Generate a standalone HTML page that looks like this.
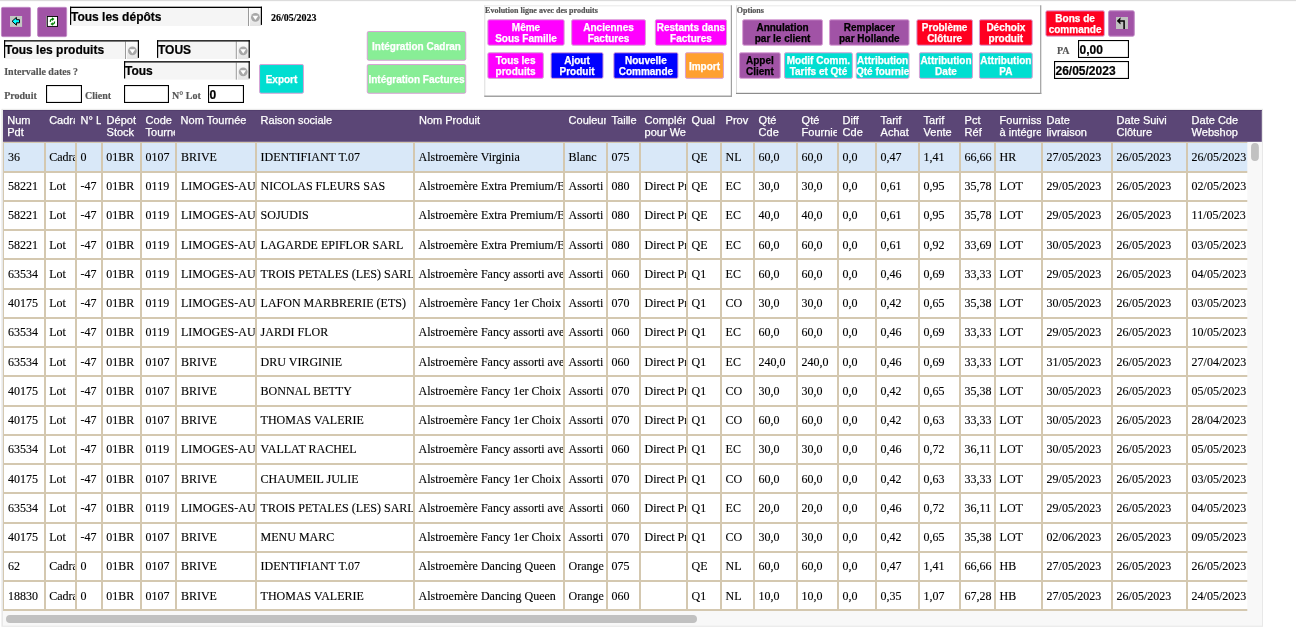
<!DOCTYPE html>
<html lang="fr"><head><meta charset="utf-8"><title>Suivi commandes</title><style>
html,body{margin:0;padding:0;background:#fff;}
body{width:1296px;height:641px;position:relative;overflow:hidden;font-family:"Liberation Serif",serif;}
.grid{position:absolute;left:0;top:0;}
div{box-sizing:border-box;}
.b{position:absolute;display:flex;align-items:center;justify-content:center;text-align:center;font:bold 10px/11px "Liberation Sans",sans-serif;white-space:nowrap;overflow:hidden;-webkit-text-stroke:0.25px currentColor;}
.b span{display:block;position:relative;top:0.5px;}
.st{position:absolute;font:bold 12px/16px "Liberation Sans",sans-serif;color:#000;white-space:nowrap;-webkit-text-stroke:0.2px #000;}
.it{position:absolute;font:bold 12px/14px "Liberation Sans",sans-serif;color:#000;white-space:nowrap;display:flex;align-items:center;-webkit-text-stroke:0.2px #000;}
.gl{position:absolute;font:bold 10px/12px "Liberation Serif",serif;color:#555;white-space:nowrap;-webkit-text-stroke:0.15px currentColor;}
.lg{position:absolute;font:bold 8px/10px "Liberation Serif",serif;color:#555;white-space:nowrap;-webkit-text-stroke:0.2px #555;}
.hc{position:absolute;top:110.0px;height:32.0px;overflow:hidden;color:#fff;font:11px/12px "Liberation Sans",sans-serif;white-space:nowrap;padding:4px 0 0 3.6px;-webkit-text-stroke:0.25px #fff;}
.body{position:absolute;overflow:hidden;}
.c{position:absolute;overflow:hidden;white-space:nowrap;font:12px/14px "Liberation Serif",serif;color:#000;padding:7px 0 0 3.6px;-webkit-text-stroke:0.12px #000;}
</style></head><body>
<svg class="grid" width="1296" height="641" viewBox="0 0 1296 641">
<rect x="1.4" y="108.8" width="1261.6" height="518.0" fill="#e8e8e8"/>
<rect x="3" y="109.8" width="1259" height="515.9000000000001" fill="#f8f8f8"/>
<rect x="0" y="0" width="1296" height="1.15" fill="#dcdcdc"/>
<rect x="1.45" y="7.35" width="29.10" height="29.30" rx="1.4" fill="#a153a6" stroke="#c088c4" stroke-width="1"/>
<rect x="37.65" y="7.35" width="29.00" height="29.30" rx="1.4" fill="#a153a6" stroke="#c088c4" stroke-width="1"/>
<rect x="10" y="16" width="12.1" height="10.9" fill="#c3c7c3"/>
<path d="M12.1 21.25 L16.4 17.4 L16.4 19.7 L19.5 19.7 L19.5 22.8 L16.4 22.8 L16.4 25.2 Z" fill="#00ffff" stroke="#000" stroke-width="1" stroke-linejoin="miter"/>
<rect x="46" y="16" width="1" height="11" fill="#a8a8a8"/>
<rect x="47.3" y="16.45" width="10.25" height="9.95" fill="#fff" stroke="#000" stroke-width="0.9"/>
<g fill="none" stroke="#008000" stroke-width="1.3"><path d="M50.4 21.9 Q50.2 19.2 52.3 19.1"/><path d="M54.5 21.5 Q54.7 23.9 52.6 24"/></g>
<path d="M52 17.3 L54.5 19.1 L52 20.9 Z" fill="#008000"/><path d="M52.9 22.2 L50.4 24 L52.9 25.8 Z" fill="#008000"/>
<rect x="70" y="6.7" width="192" height="19.3" fill="#f5f5f5"/>
<defs><linearGradient id="g1" x1="0" y1="0" x2="0" y2="1"><stop offset="0" stop-color="#fbfbfb"/><stop offset="1" stop-color="#e4e4e4"/></linearGradient></defs>
<rect x="249.6" y="8.0" width="11.299999999999978" height="18.0" fill="url(#g1)"/>
<rect x="249" y="8.0" width="0.8" height="18.0" fill="#fff"/>
<rect x="248" y="8.0" width="1" height="18.0" fill="#9a9a9a"/>
<rect x="70" y="6.7" width="192" height="1.3" fill="#000"/>
<rect x="70" y="6.7" width="1.2" height="18.2" fill="#000"/>
<rect x="260.8" y="6.7" width="1.2" height="18.2" fill="#000"/>
<circle cx="255.4" cy="17.3" r="4.4" fill="#a8a8a8"/>
<path d="M252.5 15.700000000000001 L258.3 15.700000000000001 L255.4 19.900000000000002 Z" fill="#fff"/>
<rect x="4" y="40.2" width="135" height="18.799999999999997" fill="#f5f5f5"/>
<defs><linearGradient id="g2" x1="0" y1="0" x2="0" y2="1"><stop offset="0" stop-color="#fbfbfb"/><stop offset="1" stop-color="#e4e4e4"/></linearGradient></defs>
<rect x="126.6" y="41.5" width="11.300000000000006" height="17.499999999999996" fill="url(#g2)"/>
<rect x="126" y="41.5" width="0.8" height="17.499999999999996" fill="#fff"/>
<rect x="125" y="41.5" width="1" height="17.499999999999996" fill="#9a9a9a"/>
<rect x="4" y="40.2" width="135" height="1.3" fill="#000"/>
<rect x="4" y="40.2" width="1.2" height="17.699999999999996" fill="#000"/>
<rect x="137.8" y="40.2" width="1.2" height="17.699999999999996" fill="#000"/>
<circle cx="132.4" cy="50.800000000000004" r="4.4" fill="#a8a8a8"/>
<path d="M129.5 49.2 L135.3 49.2 L132.4 53.400000000000006 Z" fill="#fff"/>
<rect x="157" y="40.2" width="92.80000000000001" height="18.799999999999997" fill="#f5f5f5"/>
<defs><linearGradient id="g3" x1="0" y1="0" x2="0" y2="1"><stop offset="0" stop-color="#fbfbfb"/><stop offset="1" stop-color="#e4e4e4"/></linearGradient></defs>
<rect x="237.4" y="41.5" width="11.300000000000006" height="17.499999999999996" fill="url(#g3)"/>
<rect x="236.8" y="41.5" width="0.8" height="17.499999999999996" fill="#fff"/>
<rect x="235.8" y="41.5" width="1" height="17.499999999999996" fill="#9a9a9a"/>
<rect x="157" y="40.2" width="92.80000000000001" height="1.3" fill="#000"/>
<rect x="157" y="40.2" width="1.2" height="17.699999999999996" fill="#000"/>
<rect x="248.60000000000002" y="40.2" width="1.2" height="17.699999999999996" fill="#000"/>
<circle cx="243.20000000000002" cy="50.800000000000004" r="4.4" fill="#a8a8a8"/>
<path d="M240.3 49.2 L246.10000000000002 49.2 L243.20000000000002 53.400000000000006 Z" fill="#fff"/>
<rect x="124" y="61.2" width="125.80000000000001" height="18.39999999999999" fill="#f5f5f5"/>
<defs><linearGradient id="g4" x1="0" y1="0" x2="0" y2="1"><stop offset="0" stop-color="#fbfbfb"/><stop offset="1" stop-color="#e4e4e4"/></linearGradient></defs>
<rect x="237.4" y="62.5" width="11.300000000000006" height="17.09999999999999" fill="url(#g4)"/>
<rect x="236.8" y="62.5" width="0.8" height="17.09999999999999" fill="#fff"/>
<rect x="235.8" y="62.5" width="1" height="17.09999999999999" fill="#9a9a9a"/>
<rect x="124" y="61.2" width="125.80000000000001" height="1.3" fill="#000"/>
<rect x="124" y="61.2" width="1.2" height="17.29999999999999" fill="#000"/>
<rect x="248.60000000000002" y="61.2" width="1.2" height="17.29999999999999" fill="#000"/>
<circle cx="243.20000000000002" cy="71.8" r="4.4" fill="#a8a8a8"/>
<path d="M240.3 70.2 L246.10000000000002 70.2 L243.20000000000002 74.39999999999999 Z" fill="#fff"/>
<rect x="46.55" y="85.55" width="34.9" height="16.9" fill="#fff" stroke="#000" stroke-width="1.1"/>
<rect x="124.55" y="85.55" width="43.9" height="16.9" fill="#fff" stroke="#000" stroke-width="1.1"/>
<rect x="208.55" y="85.55" width="34.9" height="16.9" fill="#fff" stroke="#000" stroke-width="1.1"/>
<rect x="1078.55" y="40.55" width="49.9" height="16.9" fill="#fff" stroke="#000" stroke-width="1.1"/>
<rect x="1054.55" y="61.55" width="73.9" height="16.9" fill="#fff" stroke="#000" stroke-width="1.1"/>
<rect x="259.55" y="64.55" width="43.90" height="28.70" rx="1.4" fill="#00ded1" stroke="#d9a0d6" stroke-width="1"/>
<rect x="367.25" y="31.55" width="98.50" height="28.70" rx="1.4" fill="#88ee96" stroke="#d9a0d6" stroke-width="1"/>
<rect x="367.25" y="64.55" width="98.50" height="28.70" rx="1.4" fill="#88ee96" stroke="#d9a0d6" stroke-width="1"/>
<rect x="484.3" y="5.3" width="247.7" height="1" fill="#e9e9e9"/>
<rect x="484.3" y="5.3" width="1" height="91.5" fill="#dcdcdc"/>
<rect x="484.3" y="95.6" width="247.7" height="1.2" fill="#8c8c8c"/>
<rect x="730.8" y="5.3" width="1.2" height="91.5" fill="#a0a0a0"/>
<rect x="736" y="5.3" width="305.29999999999995" height="1" fill="#e9e9e9"/>
<rect x="736" y="5.3" width="1" height="88.7" fill="#dcdcdc"/>
<rect x="736" y="92.8" width="305.29999999999995" height="1.2" fill="#8c8c8c"/>
<rect x="1040.1" y="5.3" width="1.2" height="88.7" fill="#a0a0a0"/>
<rect x="487.85" y="19.75" width="76.30" height="25.50" rx="1.4" fill="#ff00ff" stroke="#d9a0d6" stroke-width="1"/>
<rect x="571.65" y="19.75" width="73.80" height="25.50" rx="1.4" fill="#ff00ff" stroke="#d9a0d6" stroke-width="1"/>
<rect x="655.35" y="19.75" width="71.20" height="25.50" rx="1.4" fill="#ff00ff" stroke="#d9a0d6" stroke-width="1"/>
<rect x="487.85" y="52.75" width="55.50" height="25.60" rx="1.4" fill="#ff00ff" stroke="#d9a0d6" stroke-width="1"/>
<rect x="551.05" y="52.75" width="52.00" height="25.60" rx="1.4" fill="#0000ff" stroke="#d9a0d6" stroke-width="1"/>
<rect x="613.85" y="52.75" width="64.10" height="25.60" rx="1.4" fill="#0000ff" stroke="#d9a0d6" stroke-width="1"/>
<rect x="685.45" y="52.75" width="38.00" height="25.60" rx="1.4" fill="#ffa030" stroke="#d9a0d6" stroke-width="1"/>
<rect x="742.65" y="19.75" width="79.80" height="25.50" rx="1.4" fill="#a153a6" stroke="#d9a0d6" stroke-width="1"/>
<rect x="829.55" y="19.75" width="79.50" height="25.50" rx="1.4" fill="#a153a6" stroke="#d9a0d6" stroke-width="1"/>
<rect x="916.85" y="19.75" width="55.60" height="25.50" rx="1.4" fill="#ff0020" stroke="#d9a0d6" stroke-width="1"/>
<rect x="979.45" y="19.75" width="52.80" height="25.50" rx="1.4" fill="#ff0020" stroke="#d9a0d6" stroke-width="1"/>
<rect x="739.55" y="52.75" width="40.70" height="25.60" rx="1.4" fill="#a153a6" stroke="#d9a0d6" stroke-width="1"/>
<rect x="784.55" y="52.75" width="67.80" height="25.60" rx="1.4" fill="#00ded1" stroke="#d9a0d6" stroke-width="1"/>
<rect x="856.25" y="52.75" width="52.80" height="25.60" rx="1.4" fill="#00ded1" stroke="#d9a0d6" stroke-width="1"/>
<rect x="919.45" y="52.75" width="53.00" height="25.60" rx="1.4" fill="#00ded1" stroke="#d9a0d6" stroke-width="1"/>
<rect x="979.45" y="52.75" width="52.80" height="25.60" rx="1.4" fill="#00ded1" stroke="#d9a0d6" stroke-width="1"/>
<rect x="1045.85" y="10.85" width="58.50" height="25.30" rx="1.4" fill="#ff0020" stroke="#d9a0d6" stroke-width="1"/>
<rect x="1108.65" y="10.85" width="25.60" height="25.30" rx="1.4" fill="#a153a6" stroke="#c088c4" stroke-width="1"/>
<rect x="1116" y="17" width="12" height="12" fill="#c0c0c0"/>
<path d="M1124.1 29 L1124.1 20.9 L1119 20.9" fill="none" stroke="#000" stroke-width="1.5"/><path d="M1117 20.9 L1120.4 17.8 L1119.7 20.9 L1120.4 24 Z" fill="#000" stroke="#000" stroke-width="0.5"/>
<rect x="3.0" y="142.0" width="1244.3" height="29.0" fill="#d9e8f8"/>
<rect x="3.0" y="171" width="1244.3" height="440" fill="#ffffff"/>
<rect x="3.0" y="142.0" width="1244.3" height="1" fill="#d4c8b0"/>
<rect x="3.0" y="171" width="1244.3" height="2" fill="#d4c8b0"/>
<rect x="3.0" y="200" width="1244.3" height="2" fill="#d4c8b0"/>
<rect x="3.0" y="229" width="1244.3" height="2" fill="#d4c8b0"/>
<rect x="3.0" y="258" width="1244.3" height="2" fill="#d4c8b0"/>
<rect x="3.0" y="288" width="1244.3" height="2" fill="#d4c8b0"/>
<rect x="3.0" y="317" width="1244.3" height="2" fill="#d4c8b0"/>
<rect x="3.0" y="346" width="1244.3" height="2" fill="#d4c8b0"/>
<rect x="3.0" y="375" width="1244.3" height="2" fill="#d4c8b0"/>
<rect x="3.0" y="405" width="1244.3" height="2" fill="#d4c8b0"/>
<rect x="3.0" y="434" width="1244.3" height="2" fill="#d4c8b0"/>
<rect x="3.0" y="463" width="1244.3" height="2" fill="#d4c8b0"/>
<rect x="3.0" y="492" width="1244.3" height="2" fill="#d4c8b0"/>
<rect x="3.0" y="522" width="1244.3" height="2" fill="#d4c8b0"/>
<rect x="3.0" y="551" width="1244.3" height="2" fill="#d4c8b0"/>
<rect x="3.0" y="580" width="1244.3" height="2" fill="#d4c8b0"/>
<rect x="3.0" y="609" width="1244.3" height="2" fill="#d4c8b0"/>
<rect x="3" y="142.0" width="1" height="469.0" fill="#d4c8b0"/>
<rect x="44" y="142.0" width="2" height="469.0" fill="#d4c8b0"/>
<rect x="75" y="142.0" width="2" height="469.0" fill="#d4c8b0"/>
<rect x="101" y="142.0" width="2" height="469.0" fill="#d4c8b0"/>
<rect x="140" y="142.0" width="2" height="469.0" fill="#d4c8b0"/>
<rect x="175" y="142.0" width="2" height="469.0" fill="#d4c8b0"/>
<rect x="255" y="142.0" width="2" height="469.0" fill="#d4c8b0"/>
<rect x="413" y="142.0" width="2" height="469.0" fill="#d4c8b0"/>
<rect x="563" y="142.0" width="2" height="469.0" fill="#d4c8b0"/>
<rect x="606" y="142.0" width="2" height="469.0" fill="#d4c8b0"/>
<rect x="639" y="142.0" width="2" height="469.0" fill="#d4c8b0"/>
<rect x="686" y="142.0" width="2" height="469.0" fill="#d4c8b0"/>
<rect x="720" y="142.0" width="2" height="469.0" fill="#d4c8b0"/>
<rect x="753" y="142.0" width="2" height="469.0" fill="#d4c8b0"/>
<rect x="796" y="142.0" width="2" height="469.0" fill="#d4c8b0"/>
<rect x="837" y="142.0" width="2" height="469.0" fill="#d4c8b0"/>
<rect x="875" y="142.0" width="2" height="469.0" fill="#d4c8b0"/>
<rect x="918" y="142.0" width="2" height="469.0" fill="#d4c8b0"/>
<rect x="959" y="142.0" width="2" height="469.0" fill="#d4c8b0"/>
<rect x="994" y="142.0" width="2" height="469.0" fill="#d4c8b0"/>
<rect x="1041" y="142.0" width="2" height="469.0" fill="#d4c8b0"/>
<rect x="1111" y="142.0" width="2" height="469.0" fill="#d4c8b0"/>
<rect x="1186" y="142.0" width="2" height="469.0" fill="#d4c8b0"/>
<rect x="3.0" y="110.0" width="1258.8" height="31.8" fill="#5b4676"/>
<rect x="3.0" y="110.0" width="1258.8" height="0.8" fill="#503c6c"/>
<rect x="1251.05" y="143" width="7.8" height="17.9" rx="3.9" fill="#c1c1c1"/>
<rect x="6" y="615.05" width="691" height="7.85" rx="3.9" fill="#c1c1c1"/>
</svg>
<div class="st" style="left:71.0px;top:9px">Tous les dépôts</div>
<div class="st" style="left:5.0px;top:42px">Tous les produits</div>
<div class="st" style="left:158.0px;top:42px">TOUS</div>
<div class="st" style="left:125.0px;top:63px">Tous</div>
<div class="gl" style="left:271px;top:11.5px;color:#000">26/05/2023</div>
<div class="gl" style="left:4.2px;top:66.3px">Intervalle dates ?</div>
<div class="gl" style="left:4.2px;top:90.1px">Produit</div>
<div class="gl" style="left:85px;top:90.1px">Client</div>
<div class="gl" style="left:172px;top:90.1px">N° Lot</div>
<div class="it" style="left:209.5px;top:86px;height:18px">0</div>
<div class="it" style="left:1079.5px;top:41px;height:18px">0,00</div>
<div class="it" style="left:1055.5px;top:62px;height:18px">26/05/2023</div>
<div class="gl" style="left:1057px;top:45.4px">PA</div>
<div class="b" style="left:259.3px;top:64.3px;width:44.39999999999998px;height:29.200000000000003px;color:#fff"><span>Export</span></div>
<div class="b" style="left:367px;top:31.3px;width:99px;height:29.2px;color:#fff"><span>Intégration Cadran</span></div>
<div class="b" style="left:367px;top:64.3px;width:99px;height:29.200000000000003px;color:#fff"><span>Intégration Factures</span></div>
<div class="lg" style="left:485.1px;top:5.5px">Evolution ligne avec des produits</div>
<div class="lg" style="left:736.8px;top:5.5px">Options</div>
<div class="b" style="left:487.6px;top:19.5px;width:76.79999999999995px;height:26.0px;color:#fff"><span>Même<br>Sous Famille</span></div>
<div class="b" style="left:571.4px;top:19.5px;width:74.30000000000007px;height:26.0px;color:#fff"><span>Anciennes<br>Factures</span></div>
<div class="b" style="left:655.1px;top:19.5px;width:71.69999999999993px;height:26.0px;color:#fff"><span>Restants dans<br>Factures</span></div>
<div class="b" style="left:487.6px;top:52.5px;width:56.0px;height:26.099999999999994px;color:#fff"><span>Tous les<br>produits</span></div>
<div class="b" style="left:550.8px;top:52.5px;width:52.5px;height:26.099999999999994px;color:#fff"><span>Ajout<br>Produit</span></div>
<div class="b" style="left:613.6px;top:52.5px;width:64.60000000000002px;height:26.099999999999994px;color:#fff"><span>Nouvelle<br>Commande</span></div>
<div class="b" style="left:685.2px;top:52.5px;width:38.5px;height:26.099999999999994px;color:#fff"><span>Import</span></div>
<div class="b" style="left:742.4px;top:19.5px;width:80.30000000000007px;height:26.0px;color:#000"><span>Annulation<br>par le client</span></div>
<div class="b" style="left:829.3px;top:19.5px;width:80.0px;height:26.0px;color:#000"><span>Remplacer<br>par Hollande</span></div>
<div class="b" style="left:916.6px;top:19.5px;width:56.10000000000002px;height:26.0px;color:#fff"><span>Problème<br>Clôture</span></div>
<div class="b" style="left:979.2px;top:19.5px;width:53.299999999999955px;height:26.0px;color:#fff"><span>Déchoix<br>produit</span></div>
<div class="b" style="left:739.3px;top:52.5px;width:41.200000000000045px;height:26.099999999999994px;color:#000"><span>Appel<br>Client</span></div>
<div class="b" style="left:784.3px;top:52.5px;width:68.30000000000007px;height:26.099999999999994px;color:#fff"><span>Modif Comm.<br>Tarifs et Qté</span></div>
<div class="b" style="left:856px;top:52.5px;width:53.299999999999955px;height:26.099999999999994px;color:#fff"><span>Attribution<br>Qté fournie</span></div>
<div class="b" style="left:919.2px;top:52.5px;width:53.5px;height:26.099999999999994px;color:#fff"><span>Attribution<br>Date</span></div>
<div class="b" style="left:979.2px;top:52.5px;width:53.299999999999955px;height:26.099999999999994px;color:#fff"><span>Attribution<br>PA</span></div>
<div class="b" style="left:1045.6px;top:10.6px;width:59.0px;height:25.799999999999997px;color:#fff"><span>Bons de<br>commande</span></div>
<div class="hc" style="left:3.7px;width:40.3px"><span>Num<br>Pdt</span></div>
<div class="hc" style="left:45.55px;width:29.450000000000003px"><span>Cadran</span></div>
<div class="hc" style="left:77px;width:24px"><span>N° Lot</span></div>
<div class="hc" style="left:103px;width:37px"><span>Dépot<br>Stock</span></div>
<div class="hc" style="left:142px;width:33px"><span>Code<br>Tournée</span></div>
<div class="hc" style="left:177px;width:78px"><span>Nom Tournée</span></div>
<div class="hc" style="left:257px;width:156px"><span>Raison sociale</span></div>
<div class="hc" style="left:415.4px;width:147.60000000000002px"><span>Nom Produit</span></div>
<div class="hc" style="left:565px;width:41px"><span>Couleur</span></div>
<div class="hc" style="left:608px;width:31px"><span>Taille</span></div>
<div class="hc" style="left:641px;width:45px"><span>Complément<br>pour Webshop</span></div>
<div class="hc" style="left:688px;width:32px"><span>Qual</span></div>
<div class="hc" style="left:722px;width:31px"><span>Prov</span></div>
<div class="hc" style="left:755px;width:41px"><span>Qté<br>Cde</span></div>
<div class="hc" style="left:798px;width:39px"><span>Qté<br>Fournie</span></div>
<div class="hc" style="left:839px;width:36px"><span>Diff<br>Cde</span></div>
<div class="hc" style="left:877px;width:41px"><span>Tarif<br>Achat</span></div>
<div class="hc" style="left:920px;width:39px"><span>Tarif<br>Vente</span></div>
<div class="hc" style="left:961px;width:33px"><span>Pct<br>Réf</span></div>
<div class="hc" style="left:996px;width:45px"><span>Fournisseur<br>à intégrer</span></div>
<div class="hc" style="left:1043px;width:68px"><span>Date<br>livraison</span></div>
<div class="hc" style="left:1113px;width:73px"><span>Date Suivi<br>Clôture</span></div>
<div class="hc" style="left:1188px;width:73.79999999999995px"><span>Date Cde<br>Webshop</span></div>
<div class="body" style="left:0px;top:142.0px;width:1247.3px;height:469.0px">
<div class="c" style="left:4.3px;top:1.0px;width:39.7px;height:28px;padding-top:7px"><span>36</span></div>
<div class="c" style="left:45.55px;top:1.0px;width:29.450000000000003px;height:28px;padding-top:7px"><span>Cadran</span></div>
<div class="c" style="left:77px;top:1.0px;width:24px;height:28px;padding-top:7px"><span>0</span></div>
<div class="c" style="left:102.7px;top:1.0px;width:37.3px;height:28px;padding-top:7px"><span>01BR</span></div>
<div class="c" style="left:142px;top:1.0px;width:33px;height:28px;padding-top:7px"><span>0107</span></div>
<div class="c" style="left:177.3px;top:1.0px;width:77.69999999999999px;height:28px;padding-top:7px"><span>BRIVE</span></div>
<div class="c" style="left:257px;top:1.0px;width:156px;height:28px;padding-top:7px"><span>IDENTIFIANT T.07</span></div>
<div class="c" style="left:415px;top:1.0px;width:148px;height:28px;padding-top:7px"><span>Alstroemère Virginia</span></div>
<div class="c" style="left:565px;top:1.0px;width:41px;height:28px;padding-top:7px"><span>Blanc</span></div>
<div class="c" style="left:608px;top:1.0px;width:31px;height:28px;padding-top:7px"><span>075</span></div>
<div class="c" style="left:688px;top:1.0px;width:32px;height:28px;padding-top:7px"><span>QE</span></div>
<div class="c" style="left:722px;top:1.0px;width:31px;height:28px;padding-top:7px"><span>NL</span></div>
<div class="c" style="left:755px;top:1.0px;width:41px;height:28px;padding-top:7px"><span>60,0</span></div>
<div class="c" style="left:798px;top:1.0px;width:39px;height:28px;padding-top:7px"><span>60,0</span></div>
<div class="c" style="left:839px;top:1.0px;width:36px;height:28px;padding-top:7px"><span>0,0</span></div>
<div class="c" style="left:877px;top:1.0px;width:41px;height:28px;padding-top:7px"><span>0,47</span></div>
<div class="c" style="left:920px;top:1.0px;width:39px;height:28px;padding-top:7px"><span>1,41</span></div>
<div class="c" style="left:961px;top:1.0px;width:33px;height:28px;padding-top:7px"><span>66,66</span></div>
<div class="c" style="left:996px;top:1.0px;width:45px;height:28px;padding-top:7px"><span>HR</span></div>
<div class="c" style="left:1043px;top:1.0px;width:68px;height:28px;padding-top:7px"><span>27/05/2023</span></div>
<div class="c" style="left:1113px;top:1.0px;width:73px;height:28px;padding-top:7px"><span>26/05/2023</span></div>
<div class="c" style="left:1188px;top:1.0px;width:86px;height:28px;padding-top:7px"><span>26/05/2023</span></div>
<div class="c" style="left:4.3px;top:31.0px;width:39.7px;height:27px;padding-top:6px"><span>58221</span></div>
<div class="c" style="left:45.55px;top:31.0px;width:29.450000000000003px;height:27px;padding-top:6px"><span>Lot</span></div>
<div class="c" style="left:77px;top:31.0px;width:24px;height:27px;padding-top:6px"><span>-47</span></div>
<div class="c" style="left:102.7px;top:31.0px;width:37.3px;height:27px;padding-top:6px"><span>01BR</span></div>
<div class="c" style="left:142px;top:31.0px;width:33px;height:27px;padding-top:6px"><span>0119</span></div>
<div class="c" style="left:177.3px;top:31.0px;width:77.69999999999999px;height:27px;padding-top:6px"><span>LIMOGES-AURILLAC</span></div>
<div class="c" style="left:257px;top:31.0px;width:156px;height:27px;padding-top:6px"><span>NICOLAS FLEURS SAS</span></div>
<div class="c" style="left:415px;top:31.0px;width:148px;height:27px;padding-top:6px"><span>Alstroemère Extra Premium/Extra</span></div>
<div class="c" style="left:565px;top:31.0px;width:41px;height:27px;padding-top:6px"><span>Assorti</span></div>
<div class="c" style="left:608px;top:31.0px;width:31px;height:27px;padding-top:6px"><span>080</span></div>
<div class="c" style="left:641px;top:31.0px;width:45px;height:27px;padding-top:6px"><span>Direct Producteur</span></div>
<div class="c" style="left:688px;top:31.0px;width:32px;height:27px;padding-top:6px"><span>QE</span></div>
<div class="c" style="left:722px;top:31.0px;width:31px;height:27px;padding-top:6px"><span>EC</span></div>
<div class="c" style="left:755px;top:31.0px;width:41px;height:27px;padding-top:6px"><span>30,0</span></div>
<div class="c" style="left:798px;top:31.0px;width:39px;height:27px;padding-top:6px"><span>30,0</span></div>
<div class="c" style="left:839px;top:31.0px;width:36px;height:27px;padding-top:6px"><span>0,0</span></div>
<div class="c" style="left:877px;top:31.0px;width:41px;height:27px;padding-top:6px"><span>0,61</span></div>
<div class="c" style="left:920px;top:31.0px;width:39px;height:27px;padding-top:6px"><span>0,95</span></div>
<div class="c" style="left:961px;top:31.0px;width:33px;height:27px;padding-top:6px"><span>35,78</span></div>
<div class="c" style="left:996px;top:31.0px;width:45px;height:27px;padding-top:6px"><span>LOT</span></div>
<div class="c" style="left:1043px;top:31.0px;width:68px;height:27px;padding-top:6px"><span>29/05/2023</span></div>
<div class="c" style="left:1113px;top:31.0px;width:73px;height:27px;padding-top:6px"><span>26/05/2023</span></div>
<div class="c" style="left:1188px;top:31.0px;width:86px;height:27px;padding-top:6px"><span>02/05/2023</span></div>
<div class="c" style="left:4.3px;top:60.0px;width:39.7px;height:27px;padding-top:6px"><span>58221</span></div>
<div class="c" style="left:45.55px;top:60.0px;width:29.450000000000003px;height:27px;padding-top:6px"><span>Lot</span></div>
<div class="c" style="left:77px;top:60.0px;width:24px;height:27px;padding-top:6px"><span>-47</span></div>
<div class="c" style="left:102.7px;top:60.0px;width:37.3px;height:27px;padding-top:6px"><span>01BR</span></div>
<div class="c" style="left:142px;top:60.0px;width:33px;height:27px;padding-top:6px"><span>0119</span></div>
<div class="c" style="left:177.3px;top:60.0px;width:77.69999999999999px;height:27px;padding-top:6px"><span>LIMOGES-AURILLAC</span></div>
<div class="c" style="left:257px;top:60.0px;width:156px;height:27px;padding-top:6px"><span>SOJUDIS</span></div>
<div class="c" style="left:415px;top:60.0px;width:148px;height:27px;padding-top:6px"><span>Alstroemère Extra Premium/Extra</span></div>
<div class="c" style="left:565px;top:60.0px;width:41px;height:27px;padding-top:6px"><span>Assorti</span></div>
<div class="c" style="left:608px;top:60.0px;width:31px;height:27px;padding-top:6px"><span>080</span></div>
<div class="c" style="left:641px;top:60.0px;width:45px;height:27px;padding-top:6px"><span>Direct Producteur</span></div>
<div class="c" style="left:688px;top:60.0px;width:32px;height:27px;padding-top:6px"><span>QE</span></div>
<div class="c" style="left:722px;top:60.0px;width:31px;height:27px;padding-top:6px"><span>EC</span></div>
<div class="c" style="left:755px;top:60.0px;width:41px;height:27px;padding-top:6px"><span>40,0</span></div>
<div class="c" style="left:798px;top:60.0px;width:39px;height:27px;padding-top:6px"><span>40,0</span></div>
<div class="c" style="left:839px;top:60.0px;width:36px;height:27px;padding-top:6px"><span>0,0</span></div>
<div class="c" style="left:877px;top:60.0px;width:41px;height:27px;padding-top:6px"><span>0,61</span></div>
<div class="c" style="left:920px;top:60.0px;width:39px;height:27px;padding-top:6px"><span>0,95</span></div>
<div class="c" style="left:961px;top:60.0px;width:33px;height:27px;padding-top:6px"><span>35,78</span></div>
<div class="c" style="left:996px;top:60.0px;width:45px;height:27px;padding-top:6px"><span>LOT</span></div>
<div class="c" style="left:1043px;top:60.0px;width:68px;height:27px;padding-top:6px"><span>29/05/2023</span></div>
<div class="c" style="left:1113px;top:60.0px;width:73px;height:27px;padding-top:6px"><span>26/05/2023</span></div>
<div class="c" style="left:1188px;top:60.0px;width:86px;height:27px;padding-top:6px"><span>11/05/2023</span></div>
<div class="c" style="left:4.3px;top:89.0px;width:39.7px;height:27px;padding-top:7px"><span>58221</span></div>
<div class="c" style="left:45.55px;top:89.0px;width:29.450000000000003px;height:27px;padding-top:7px"><span>Lot</span></div>
<div class="c" style="left:77px;top:89.0px;width:24px;height:27px;padding-top:7px"><span>-47</span></div>
<div class="c" style="left:102.7px;top:89.0px;width:37.3px;height:27px;padding-top:7px"><span>01BR</span></div>
<div class="c" style="left:142px;top:89.0px;width:33px;height:27px;padding-top:7px"><span>0119</span></div>
<div class="c" style="left:177.3px;top:89.0px;width:77.69999999999999px;height:27px;padding-top:7px"><span>LIMOGES-AURILLAC</span></div>
<div class="c" style="left:257px;top:89.0px;width:156px;height:27px;padding-top:7px"><span>LAGARDE EPIFLOR SARL</span></div>
<div class="c" style="left:415px;top:89.0px;width:148px;height:27px;padding-top:7px"><span>Alstroemère Extra Premium/Extra</span></div>
<div class="c" style="left:565px;top:89.0px;width:41px;height:27px;padding-top:7px"><span>Assorti</span></div>
<div class="c" style="left:608px;top:89.0px;width:31px;height:27px;padding-top:7px"><span>080</span></div>
<div class="c" style="left:641px;top:89.0px;width:45px;height:27px;padding-top:7px"><span>Direct Producteur</span></div>
<div class="c" style="left:688px;top:89.0px;width:32px;height:27px;padding-top:7px"><span>QE</span></div>
<div class="c" style="left:722px;top:89.0px;width:31px;height:27px;padding-top:7px"><span>EC</span></div>
<div class="c" style="left:755px;top:89.0px;width:41px;height:27px;padding-top:7px"><span>60,0</span></div>
<div class="c" style="left:798px;top:89.0px;width:39px;height:27px;padding-top:7px"><span>60,0</span></div>
<div class="c" style="left:839px;top:89.0px;width:36px;height:27px;padding-top:7px"><span>0,0</span></div>
<div class="c" style="left:877px;top:89.0px;width:41px;height:27px;padding-top:7px"><span>0,61</span></div>
<div class="c" style="left:920px;top:89.0px;width:39px;height:27px;padding-top:7px"><span>0,92</span></div>
<div class="c" style="left:961px;top:89.0px;width:33px;height:27px;padding-top:7px"><span>33,69</span></div>
<div class="c" style="left:996px;top:89.0px;width:45px;height:27px;padding-top:7px"><span>LOT</span></div>
<div class="c" style="left:1043px;top:89.0px;width:68px;height:27px;padding-top:7px"><span>30/05/2023</span></div>
<div class="c" style="left:1113px;top:89.0px;width:73px;height:27px;padding-top:7px"><span>26/05/2023</span></div>
<div class="c" style="left:1188px;top:89.0px;width:86px;height:27px;padding-top:7px"><span>03/05/2023</span></div>
<div class="c" style="left:4.3px;top:118.0px;width:39.7px;height:28px;padding-top:7px"><span>63534</span></div>
<div class="c" style="left:45.55px;top:118.0px;width:29.450000000000003px;height:28px;padding-top:7px"><span>Lot</span></div>
<div class="c" style="left:77px;top:118.0px;width:24px;height:28px;padding-top:7px"><span>-47</span></div>
<div class="c" style="left:102.7px;top:118.0px;width:37.3px;height:28px;padding-top:7px"><span>01BR</span></div>
<div class="c" style="left:142px;top:118.0px;width:33px;height:28px;padding-top:7px"><span>0119</span></div>
<div class="c" style="left:177.3px;top:118.0px;width:77.69999999999999px;height:28px;padding-top:7px"><span>LIMOGES-AURILLAC</span></div>
<div class="c" style="left:257px;top:118.0px;width:156px;height:28px;padding-top:7px"><span>TROIS PETALES (LES) SARL</span></div>
<div class="c" style="left:415px;top:118.0px;width:148px;height:28px;padding-top:7px"><span>Alstroemère Fancy assorti avec</span></div>
<div class="c" style="left:565px;top:118.0px;width:41px;height:28px;padding-top:7px"><span>Assorti</span></div>
<div class="c" style="left:608px;top:118.0px;width:31px;height:28px;padding-top:7px"><span>060</span></div>
<div class="c" style="left:641px;top:118.0px;width:45px;height:28px;padding-top:7px"><span>Direct Producteur</span></div>
<div class="c" style="left:688px;top:118.0px;width:32px;height:28px;padding-top:7px"><span>Q1</span></div>
<div class="c" style="left:722px;top:118.0px;width:31px;height:28px;padding-top:7px"><span>EC</span></div>
<div class="c" style="left:755px;top:118.0px;width:41px;height:28px;padding-top:7px"><span>60,0</span></div>
<div class="c" style="left:798px;top:118.0px;width:39px;height:28px;padding-top:7px"><span>60,0</span></div>
<div class="c" style="left:839px;top:118.0px;width:36px;height:28px;padding-top:7px"><span>0,0</span></div>
<div class="c" style="left:877px;top:118.0px;width:41px;height:28px;padding-top:7px"><span>0,46</span></div>
<div class="c" style="left:920px;top:118.0px;width:39px;height:28px;padding-top:7px"><span>0,69</span></div>
<div class="c" style="left:961px;top:118.0px;width:33px;height:28px;padding-top:7px"><span>33,33</span></div>
<div class="c" style="left:996px;top:118.0px;width:45px;height:28px;padding-top:7px"><span>LOT</span></div>
<div class="c" style="left:1043px;top:118.0px;width:68px;height:28px;padding-top:7px"><span>29/05/2023</span></div>
<div class="c" style="left:1113px;top:118.0px;width:73px;height:28px;padding-top:7px"><span>26/05/2023</span></div>
<div class="c" style="left:1188px;top:118.0px;width:86px;height:28px;padding-top:7px"><span>04/05/2023</span></div>
<div class="c" style="left:4.3px;top:148.0px;width:39.7px;height:27px;padding-top:6px"><span>40175</span></div>
<div class="c" style="left:45.55px;top:148.0px;width:29.450000000000003px;height:27px;padding-top:6px"><span>Lot</span></div>
<div class="c" style="left:77px;top:148.0px;width:24px;height:27px;padding-top:6px"><span>-47</span></div>
<div class="c" style="left:102.7px;top:148.0px;width:37.3px;height:27px;padding-top:6px"><span>01BR</span></div>
<div class="c" style="left:142px;top:148.0px;width:33px;height:27px;padding-top:6px"><span>0119</span></div>
<div class="c" style="left:177.3px;top:148.0px;width:77.69999999999999px;height:27px;padding-top:6px"><span>LIMOGES-AURILLAC</span></div>
<div class="c" style="left:257px;top:148.0px;width:156px;height:27px;padding-top:6px"><span>LAFON MARBRERIE (ETS)</span></div>
<div class="c" style="left:415px;top:148.0px;width:148px;height:27px;padding-top:6px"><span>Alstroemère Fancy 1er Choix</span></div>
<div class="c" style="left:565px;top:148.0px;width:41px;height:27px;padding-top:6px"><span>Assorti</span></div>
<div class="c" style="left:608px;top:148.0px;width:31px;height:27px;padding-top:6px"><span>070</span></div>
<div class="c" style="left:641px;top:148.0px;width:45px;height:27px;padding-top:6px"><span>Direct Producteur</span></div>
<div class="c" style="left:688px;top:148.0px;width:32px;height:27px;padding-top:6px"><span>Q1</span></div>
<div class="c" style="left:722px;top:148.0px;width:31px;height:27px;padding-top:6px"><span>CO</span></div>
<div class="c" style="left:755px;top:148.0px;width:41px;height:27px;padding-top:6px"><span>30,0</span></div>
<div class="c" style="left:798px;top:148.0px;width:39px;height:27px;padding-top:6px"><span>30,0</span></div>
<div class="c" style="left:839px;top:148.0px;width:36px;height:27px;padding-top:6px"><span>0,0</span></div>
<div class="c" style="left:877px;top:148.0px;width:41px;height:27px;padding-top:6px"><span>0,42</span></div>
<div class="c" style="left:920px;top:148.0px;width:39px;height:27px;padding-top:6px"><span>0,65</span></div>
<div class="c" style="left:961px;top:148.0px;width:33px;height:27px;padding-top:6px"><span>35,38</span></div>
<div class="c" style="left:996px;top:148.0px;width:45px;height:27px;padding-top:6px"><span>LOT</span></div>
<div class="c" style="left:1043px;top:148.0px;width:68px;height:27px;padding-top:6px"><span>30/05/2023</span></div>
<div class="c" style="left:1113px;top:148.0px;width:73px;height:27px;padding-top:6px"><span>26/05/2023</span></div>
<div class="c" style="left:1188px;top:148.0px;width:86px;height:27px;padding-top:6px"><span>03/05/2023</span></div>
<div class="c" style="left:4.3px;top:177.0px;width:39.7px;height:27px;padding-top:6px"><span>63534</span></div>
<div class="c" style="left:45.55px;top:177.0px;width:29.450000000000003px;height:27px;padding-top:6px"><span>Lot</span></div>
<div class="c" style="left:77px;top:177.0px;width:24px;height:27px;padding-top:6px"><span>-47</span></div>
<div class="c" style="left:102.7px;top:177.0px;width:37.3px;height:27px;padding-top:6px"><span>01BR</span></div>
<div class="c" style="left:142px;top:177.0px;width:33px;height:27px;padding-top:6px"><span>0119</span></div>
<div class="c" style="left:177.3px;top:177.0px;width:77.69999999999999px;height:27px;padding-top:6px"><span>LIMOGES-AURILLAC</span></div>
<div class="c" style="left:257px;top:177.0px;width:156px;height:27px;padding-top:6px"><span>JARDI FLOR</span></div>
<div class="c" style="left:415px;top:177.0px;width:148px;height:27px;padding-top:6px"><span>Alstroemère Fancy assorti avec</span></div>
<div class="c" style="left:565px;top:177.0px;width:41px;height:27px;padding-top:6px"><span>Assorti</span></div>
<div class="c" style="left:608px;top:177.0px;width:31px;height:27px;padding-top:6px"><span>060</span></div>
<div class="c" style="left:641px;top:177.0px;width:45px;height:27px;padding-top:6px"><span>Direct Producteur</span></div>
<div class="c" style="left:688px;top:177.0px;width:32px;height:27px;padding-top:6px"><span>Q1</span></div>
<div class="c" style="left:722px;top:177.0px;width:31px;height:27px;padding-top:6px"><span>EC</span></div>
<div class="c" style="left:755px;top:177.0px;width:41px;height:27px;padding-top:6px"><span>60,0</span></div>
<div class="c" style="left:798px;top:177.0px;width:39px;height:27px;padding-top:6px"><span>60,0</span></div>
<div class="c" style="left:839px;top:177.0px;width:36px;height:27px;padding-top:6px"><span>0,0</span></div>
<div class="c" style="left:877px;top:177.0px;width:41px;height:27px;padding-top:6px"><span>0,46</span></div>
<div class="c" style="left:920px;top:177.0px;width:39px;height:27px;padding-top:6px"><span>0,69</span></div>
<div class="c" style="left:961px;top:177.0px;width:33px;height:27px;padding-top:6px"><span>33,33</span></div>
<div class="c" style="left:996px;top:177.0px;width:45px;height:27px;padding-top:6px"><span>LOT</span></div>
<div class="c" style="left:1043px;top:177.0px;width:68px;height:27px;padding-top:6px"><span>29/05/2023</span></div>
<div class="c" style="left:1113px;top:177.0px;width:73px;height:27px;padding-top:6px"><span>26/05/2023</span></div>
<div class="c" style="left:1188px;top:177.0px;width:86px;height:27px;padding-top:6px"><span>10/05/2023</span></div>
<div class="c" style="left:4.3px;top:206.0px;width:39.7px;height:27px;padding-top:7px"><span>63534</span></div>
<div class="c" style="left:45.55px;top:206.0px;width:29.450000000000003px;height:27px;padding-top:7px"><span>Lot</span></div>
<div class="c" style="left:77px;top:206.0px;width:24px;height:27px;padding-top:7px"><span>-47</span></div>
<div class="c" style="left:102.7px;top:206.0px;width:37.3px;height:27px;padding-top:7px"><span>01BR</span></div>
<div class="c" style="left:142px;top:206.0px;width:33px;height:27px;padding-top:7px"><span>0107</span></div>
<div class="c" style="left:177.3px;top:206.0px;width:77.69999999999999px;height:27px;padding-top:7px"><span>BRIVE</span></div>
<div class="c" style="left:257px;top:206.0px;width:156px;height:27px;padding-top:7px"><span>DRU VIRGINIE</span></div>
<div class="c" style="left:415px;top:206.0px;width:148px;height:27px;padding-top:7px"><span>Alstroemère Fancy assorti avec</span></div>
<div class="c" style="left:565px;top:206.0px;width:41px;height:27px;padding-top:7px"><span>Assorti</span></div>
<div class="c" style="left:608px;top:206.0px;width:31px;height:27px;padding-top:7px"><span>060</span></div>
<div class="c" style="left:641px;top:206.0px;width:45px;height:27px;padding-top:7px"><span>Direct Producteur</span></div>
<div class="c" style="left:688px;top:206.0px;width:32px;height:27px;padding-top:7px"><span>Q1</span></div>
<div class="c" style="left:722px;top:206.0px;width:31px;height:27px;padding-top:7px"><span>EC</span></div>
<div class="c" style="left:755px;top:206.0px;width:41px;height:27px;padding-top:7px"><span>240,0</span></div>
<div class="c" style="left:798px;top:206.0px;width:39px;height:27px;padding-top:7px"><span>240,0</span></div>
<div class="c" style="left:839px;top:206.0px;width:36px;height:27px;padding-top:7px"><span>0,0</span></div>
<div class="c" style="left:877px;top:206.0px;width:41px;height:27px;padding-top:7px"><span>0,46</span></div>
<div class="c" style="left:920px;top:206.0px;width:39px;height:27px;padding-top:7px"><span>0,69</span></div>
<div class="c" style="left:961px;top:206.0px;width:33px;height:27px;padding-top:7px"><span>33,33</span></div>
<div class="c" style="left:996px;top:206.0px;width:45px;height:27px;padding-top:7px"><span>LOT</span></div>
<div class="c" style="left:1043px;top:206.0px;width:68px;height:27px;padding-top:7px"><span>31/05/2023</span></div>
<div class="c" style="left:1113px;top:206.0px;width:73px;height:27px;padding-top:7px"><span>26/05/2023</span></div>
<div class="c" style="left:1188px;top:206.0px;width:86px;height:27px;padding-top:7px"><span>27/04/2023</span></div>
<div class="c" style="left:4.3px;top:235.0px;width:39.7px;height:28px;padding-top:7px"><span>40175</span></div>
<div class="c" style="left:45.55px;top:235.0px;width:29.450000000000003px;height:28px;padding-top:7px"><span>Lot</span></div>
<div class="c" style="left:77px;top:235.0px;width:24px;height:28px;padding-top:7px"><span>-47</span></div>
<div class="c" style="left:102.7px;top:235.0px;width:37.3px;height:28px;padding-top:7px"><span>01BR</span></div>
<div class="c" style="left:142px;top:235.0px;width:33px;height:28px;padding-top:7px"><span>0107</span></div>
<div class="c" style="left:177.3px;top:235.0px;width:77.69999999999999px;height:28px;padding-top:7px"><span>BRIVE</span></div>
<div class="c" style="left:257px;top:235.0px;width:156px;height:28px;padding-top:7px"><span>BONNAL BETTY</span></div>
<div class="c" style="left:415px;top:235.0px;width:148px;height:28px;padding-top:7px"><span>Alstroemère Fancy 1er Choix</span></div>
<div class="c" style="left:565px;top:235.0px;width:41px;height:28px;padding-top:7px"><span>Assorti</span></div>
<div class="c" style="left:608px;top:235.0px;width:31px;height:28px;padding-top:7px"><span>070</span></div>
<div class="c" style="left:641px;top:235.0px;width:45px;height:28px;padding-top:7px"><span>Direct Producteur</span></div>
<div class="c" style="left:688px;top:235.0px;width:32px;height:28px;padding-top:7px"><span>Q1</span></div>
<div class="c" style="left:722px;top:235.0px;width:31px;height:28px;padding-top:7px"><span>CO</span></div>
<div class="c" style="left:755px;top:235.0px;width:41px;height:28px;padding-top:7px"><span>30,0</span></div>
<div class="c" style="left:798px;top:235.0px;width:39px;height:28px;padding-top:7px"><span>30,0</span></div>
<div class="c" style="left:839px;top:235.0px;width:36px;height:28px;padding-top:7px"><span>0,0</span></div>
<div class="c" style="left:877px;top:235.0px;width:41px;height:28px;padding-top:7px"><span>0,42</span></div>
<div class="c" style="left:920px;top:235.0px;width:39px;height:28px;padding-top:7px"><span>0,65</span></div>
<div class="c" style="left:961px;top:235.0px;width:33px;height:28px;padding-top:7px"><span>35,38</span></div>
<div class="c" style="left:996px;top:235.0px;width:45px;height:28px;padding-top:7px"><span>LOT</span></div>
<div class="c" style="left:1043px;top:235.0px;width:68px;height:28px;padding-top:7px"><span>30/05/2023</span></div>
<div class="c" style="left:1113px;top:235.0px;width:73px;height:28px;padding-top:7px"><span>26/05/2023</span></div>
<div class="c" style="left:1188px;top:235.0px;width:86px;height:28px;padding-top:7px"><span>05/05/2023</span></div>
<div class="c" style="left:4.3px;top:265.0px;width:39.7px;height:27px;padding-top:6px"><span>40175</span></div>
<div class="c" style="left:45.55px;top:265.0px;width:29.450000000000003px;height:27px;padding-top:6px"><span>Lot</span></div>
<div class="c" style="left:77px;top:265.0px;width:24px;height:27px;padding-top:6px"><span>-47</span></div>
<div class="c" style="left:102.7px;top:265.0px;width:37.3px;height:27px;padding-top:6px"><span>01BR</span></div>
<div class="c" style="left:142px;top:265.0px;width:33px;height:27px;padding-top:6px"><span>0107</span></div>
<div class="c" style="left:177.3px;top:265.0px;width:77.69999999999999px;height:27px;padding-top:6px"><span>BRIVE</span></div>
<div class="c" style="left:257px;top:265.0px;width:156px;height:27px;padding-top:6px"><span>THOMAS VALERIE</span></div>
<div class="c" style="left:415px;top:265.0px;width:148px;height:27px;padding-top:6px"><span>Alstroemère Fancy 1er Choix</span></div>
<div class="c" style="left:565px;top:265.0px;width:41px;height:27px;padding-top:6px"><span>Assorti</span></div>
<div class="c" style="left:608px;top:265.0px;width:31px;height:27px;padding-top:6px"><span>070</span></div>
<div class="c" style="left:641px;top:265.0px;width:45px;height:27px;padding-top:6px"><span>Direct Producteur</span></div>
<div class="c" style="left:688px;top:265.0px;width:32px;height:27px;padding-top:6px"><span>Q1</span></div>
<div class="c" style="left:722px;top:265.0px;width:31px;height:27px;padding-top:6px"><span>CO</span></div>
<div class="c" style="left:755px;top:265.0px;width:41px;height:27px;padding-top:6px"><span>60,0</span></div>
<div class="c" style="left:798px;top:265.0px;width:39px;height:27px;padding-top:6px"><span>60,0</span></div>
<div class="c" style="left:839px;top:265.0px;width:36px;height:27px;padding-top:6px"><span>0,0</span></div>
<div class="c" style="left:877px;top:265.0px;width:41px;height:27px;padding-top:6px"><span>0,42</span></div>
<div class="c" style="left:920px;top:265.0px;width:39px;height:27px;padding-top:6px"><span>0,63</span></div>
<div class="c" style="left:961px;top:265.0px;width:33px;height:27px;padding-top:6px"><span>33,33</span></div>
<div class="c" style="left:996px;top:265.0px;width:45px;height:27px;padding-top:6px"><span>LOT</span></div>
<div class="c" style="left:1043px;top:265.0px;width:68px;height:27px;padding-top:6px"><span>30/05/2023</span></div>
<div class="c" style="left:1113px;top:265.0px;width:73px;height:27px;padding-top:6px"><span>26/05/2023</span></div>
<div class="c" style="left:1188px;top:265.0px;width:86px;height:27px;padding-top:6px"><span>28/04/2023</span></div>
<div class="c" style="left:4.3px;top:294.0px;width:39.7px;height:27px;padding-top:6px"><span>63534</span></div>
<div class="c" style="left:45.55px;top:294.0px;width:29.450000000000003px;height:27px;padding-top:6px"><span>Lot</span></div>
<div class="c" style="left:77px;top:294.0px;width:24px;height:27px;padding-top:6px"><span>-47</span></div>
<div class="c" style="left:102.7px;top:294.0px;width:37.3px;height:27px;padding-top:6px"><span>01BR</span></div>
<div class="c" style="left:142px;top:294.0px;width:33px;height:27px;padding-top:6px"><span>0119</span></div>
<div class="c" style="left:177.3px;top:294.0px;width:77.69999999999999px;height:27px;padding-top:6px"><span>LIMOGES-AURILLAC</span></div>
<div class="c" style="left:257px;top:294.0px;width:156px;height:27px;padding-top:6px"><span>VALLAT RACHEL</span></div>
<div class="c" style="left:415px;top:294.0px;width:148px;height:27px;padding-top:6px"><span>Alstroemère Fancy assorti avec</span></div>
<div class="c" style="left:565px;top:294.0px;width:41px;height:27px;padding-top:6px"><span>Assorti</span></div>
<div class="c" style="left:608px;top:294.0px;width:31px;height:27px;padding-top:6px"><span>060</span></div>
<div class="c" style="left:641px;top:294.0px;width:45px;height:27px;padding-top:6px"><span>Direct Producteur</span></div>
<div class="c" style="left:688px;top:294.0px;width:32px;height:27px;padding-top:6px"><span>Q1</span></div>
<div class="c" style="left:722px;top:294.0px;width:31px;height:27px;padding-top:6px"><span>EC</span></div>
<div class="c" style="left:755px;top:294.0px;width:41px;height:27px;padding-top:6px"><span>30,0</span></div>
<div class="c" style="left:798px;top:294.0px;width:39px;height:27px;padding-top:6px"><span>30,0</span></div>
<div class="c" style="left:839px;top:294.0px;width:36px;height:27px;padding-top:6px"><span>0,0</span></div>
<div class="c" style="left:877px;top:294.0px;width:41px;height:27px;padding-top:6px"><span>0,46</span></div>
<div class="c" style="left:920px;top:294.0px;width:39px;height:27px;padding-top:6px"><span>0,72</span></div>
<div class="c" style="left:961px;top:294.0px;width:33px;height:27px;padding-top:6px"><span>36,11</span></div>
<div class="c" style="left:996px;top:294.0px;width:45px;height:27px;padding-top:6px"><span>LOT</span></div>
<div class="c" style="left:1043px;top:294.0px;width:68px;height:27px;padding-top:6px"><span>30/05/2023</span></div>
<div class="c" style="left:1113px;top:294.0px;width:73px;height:27px;padding-top:6px"><span>26/05/2023</span></div>
<div class="c" style="left:1188px;top:294.0px;width:86px;height:27px;padding-top:6px"><span>05/05/2023</span></div>
<div class="c" style="left:4.3px;top:323.0px;width:39.7px;height:27px;padding-top:7px"><span>40175</span></div>
<div class="c" style="left:45.55px;top:323.0px;width:29.450000000000003px;height:27px;padding-top:7px"><span>Lot</span></div>
<div class="c" style="left:77px;top:323.0px;width:24px;height:27px;padding-top:7px"><span>-47</span></div>
<div class="c" style="left:102.7px;top:323.0px;width:37.3px;height:27px;padding-top:7px"><span>01BR</span></div>
<div class="c" style="left:142px;top:323.0px;width:33px;height:27px;padding-top:7px"><span>0107</span></div>
<div class="c" style="left:177.3px;top:323.0px;width:77.69999999999999px;height:27px;padding-top:7px"><span>BRIVE</span></div>
<div class="c" style="left:257px;top:323.0px;width:156px;height:27px;padding-top:7px"><span>CHAUMEIL JULIE</span></div>
<div class="c" style="left:415px;top:323.0px;width:148px;height:27px;padding-top:7px"><span>Alstroemère Fancy 1er Choix</span></div>
<div class="c" style="left:565px;top:323.0px;width:41px;height:27px;padding-top:7px"><span>Assorti</span></div>
<div class="c" style="left:608px;top:323.0px;width:31px;height:27px;padding-top:7px"><span>070</span></div>
<div class="c" style="left:641px;top:323.0px;width:45px;height:27px;padding-top:7px"><span>Direct Producteur</span></div>
<div class="c" style="left:688px;top:323.0px;width:32px;height:27px;padding-top:7px"><span>Q1</span></div>
<div class="c" style="left:722px;top:323.0px;width:31px;height:27px;padding-top:7px"><span>CO</span></div>
<div class="c" style="left:755px;top:323.0px;width:41px;height:27px;padding-top:7px"><span>60,0</span></div>
<div class="c" style="left:798px;top:323.0px;width:39px;height:27px;padding-top:7px"><span>60,0</span></div>
<div class="c" style="left:839px;top:323.0px;width:36px;height:27px;padding-top:7px"><span>0,0</span></div>
<div class="c" style="left:877px;top:323.0px;width:41px;height:27px;padding-top:7px"><span>0,42</span></div>
<div class="c" style="left:920px;top:323.0px;width:39px;height:27px;padding-top:7px"><span>0,63</span></div>
<div class="c" style="left:961px;top:323.0px;width:33px;height:27px;padding-top:7px"><span>33,33</span></div>
<div class="c" style="left:996px;top:323.0px;width:45px;height:27px;padding-top:7px"><span>LOT</span></div>
<div class="c" style="left:1043px;top:323.0px;width:68px;height:27px;padding-top:7px"><span>29/05/2023</span></div>
<div class="c" style="left:1113px;top:323.0px;width:73px;height:27px;padding-top:7px"><span>26/05/2023</span></div>
<div class="c" style="left:1188px;top:323.0px;width:86px;height:27px;padding-top:7px"><span>03/05/2023</span></div>
<div class="c" style="left:4.3px;top:352.0px;width:39.7px;height:28px;padding-top:7px"><span>63534</span></div>
<div class="c" style="left:45.55px;top:352.0px;width:29.450000000000003px;height:28px;padding-top:7px"><span>Lot</span></div>
<div class="c" style="left:77px;top:352.0px;width:24px;height:28px;padding-top:7px"><span>-47</span></div>
<div class="c" style="left:102.7px;top:352.0px;width:37.3px;height:28px;padding-top:7px"><span>01BR</span></div>
<div class="c" style="left:142px;top:352.0px;width:33px;height:28px;padding-top:7px"><span>0119</span></div>
<div class="c" style="left:177.3px;top:352.0px;width:77.69999999999999px;height:28px;padding-top:7px"><span>LIMOGES-AURILLAC</span></div>
<div class="c" style="left:257px;top:352.0px;width:156px;height:28px;padding-top:7px"><span>TROIS PETALES (LES) SARL</span></div>
<div class="c" style="left:415px;top:352.0px;width:148px;height:28px;padding-top:7px"><span>Alstroemère Fancy assorti avec</span></div>
<div class="c" style="left:565px;top:352.0px;width:41px;height:28px;padding-top:7px"><span>Assorti</span></div>
<div class="c" style="left:608px;top:352.0px;width:31px;height:28px;padding-top:7px"><span>060</span></div>
<div class="c" style="left:641px;top:352.0px;width:45px;height:28px;padding-top:7px"><span>Direct Producteur</span></div>
<div class="c" style="left:688px;top:352.0px;width:32px;height:28px;padding-top:7px"><span>Q1</span></div>
<div class="c" style="left:722px;top:352.0px;width:31px;height:28px;padding-top:7px"><span>EC</span></div>
<div class="c" style="left:755px;top:352.0px;width:41px;height:28px;padding-top:7px"><span>20,0</span></div>
<div class="c" style="left:798px;top:352.0px;width:39px;height:28px;padding-top:7px"><span>20,0</span></div>
<div class="c" style="left:839px;top:352.0px;width:36px;height:28px;padding-top:7px"><span>0,0</span></div>
<div class="c" style="left:877px;top:352.0px;width:41px;height:28px;padding-top:7px"><span>0,46</span></div>
<div class="c" style="left:920px;top:352.0px;width:39px;height:28px;padding-top:7px"><span>0,72</span></div>
<div class="c" style="left:961px;top:352.0px;width:33px;height:28px;padding-top:7px"><span>36,11</span></div>
<div class="c" style="left:996px;top:352.0px;width:45px;height:28px;padding-top:7px"><span>LOT</span></div>
<div class="c" style="left:1043px;top:352.0px;width:68px;height:28px;padding-top:7px"><span>29/05/2023</span></div>
<div class="c" style="left:1113px;top:352.0px;width:73px;height:28px;padding-top:7px"><span>26/05/2023</span></div>
<div class="c" style="left:1188px;top:352.0px;width:86px;height:28px;padding-top:7px"><span>04/05/2023</span></div>
<div class="c" style="left:4.3px;top:382.0px;width:39.7px;height:27px;padding-top:6px"><span>40175</span></div>
<div class="c" style="left:45.55px;top:382.0px;width:29.450000000000003px;height:27px;padding-top:6px"><span>Lot</span></div>
<div class="c" style="left:77px;top:382.0px;width:24px;height:27px;padding-top:6px"><span>-47</span></div>
<div class="c" style="left:102.7px;top:382.0px;width:37.3px;height:27px;padding-top:6px"><span>01BR</span></div>
<div class="c" style="left:142px;top:382.0px;width:33px;height:27px;padding-top:6px"><span>0107</span></div>
<div class="c" style="left:177.3px;top:382.0px;width:77.69999999999999px;height:27px;padding-top:6px"><span>BRIVE</span></div>
<div class="c" style="left:257px;top:382.0px;width:156px;height:27px;padding-top:6px"><span>MENU MARC</span></div>
<div class="c" style="left:415px;top:382.0px;width:148px;height:27px;padding-top:6px"><span>Alstroemère Fancy 1er Choix</span></div>
<div class="c" style="left:565px;top:382.0px;width:41px;height:27px;padding-top:6px"><span>Assorti</span></div>
<div class="c" style="left:608px;top:382.0px;width:31px;height:27px;padding-top:6px"><span>070</span></div>
<div class="c" style="left:641px;top:382.0px;width:45px;height:27px;padding-top:6px"><span>Direct Producteur</span></div>
<div class="c" style="left:688px;top:382.0px;width:32px;height:27px;padding-top:6px"><span>Q1</span></div>
<div class="c" style="left:722px;top:382.0px;width:31px;height:27px;padding-top:6px"><span>CO</span></div>
<div class="c" style="left:755px;top:382.0px;width:41px;height:27px;padding-top:6px"><span>30,0</span></div>
<div class="c" style="left:798px;top:382.0px;width:39px;height:27px;padding-top:6px"><span>30,0</span></div>
<div class="c" style="left:839px;top:382.0px;width:36px;height:27px;padding-top:6px"><span>0,0</span></div>
<div class="c" style="left:877px;top:382.0px;width:41px;height:27px;padding-top:6px"><span>0,42</span></div>
<div class="c" style="left:920px;top:382.0px;width:39px;height:27px;padding-top:6px"><span>0,65</span></div>
<div class="c" style="left:961px;top:382.0px;width:33px;height:27px;padding-top:6px"><span>35,38</span></div>
<div class="c" style="left:996px;top:382.0px;width:45px;height:27px;padding-top:6px"><span>LOT</span></div>
<div class="c" style="left:1043px;top:382.0px;width:68px;height:27px;padding-top:6px"><span>02/06/2023</span></div>
<div class="c" style="left:1113px;top:382.0px;width:73px;height:27px;padding-top:6px"><span>26/05/2023</span></div>
<div class="c" style="left:1188px;top:382.0px;width:86px;height:27px;padding-top:6px"><span>09/05/2023</span></div>
<div class="c" style="left:4.3px;top:411.0px;width:39.7px;height:27px;padding-top:6px"><span>62</span></div>
<div class="c" style="left:45.55px;top:411.0px;width:29.450000000000003px;height:27px;padding-top:6px"><span>Cadran</span></div>
<div class="c" style="left:77px;top:411.0px;width:24px;height:27px;padding-top:6px"><span>0</span></div>
<div class="c" style="left:102.7px;top:411.0px;width:37.3px;height:27px;padding-top:6px"><span>01BR</span></div>
<div class="c" style="left:142px;top:411.0px;width:33px;height:27px;padding-top:6px"><span>0107</span></div>
<div class="c" style="left:177.3px;top:411.0px;width:77.69999999999999px;height:27px;padding-top:6px"><span>BRIVE</span></div>
<div class="c" style="left:257px;top:411.0px;width:156px;height:27px;padding-top:6px"><span>IDENTIFIANT T.07</span></div>
<div class="c" style="left:415px;top:411.0px;width:148px;height:27px;padding-top:6px"><span>Alstroemère Dancing Queen</span></div>
<div class="c" style="left:565px;top:411.0px;width:41px;height:27px;padding-top:6px"><span>Orange</span></div>
<div class="c" style="left:608px;top:411.0px;width:31px;height:27px;padding-top:6px"><span>075</span></div>
<div class="c" style="left:688px;top:411.0px;width:32px;height:27px;padding-top:6px"><span>QE</span></div>
<div class="c" style="left:722px;top:411.0px;width:31px;height:27px;padding-top:6px"><span>NL</span></div>
<div class="c" style="left:755px;top:411.0px;width:41px;height:27px;padding-top:6px"><span>60,0</span></div>
<div class="c" style="left:798px;top:411.0px;width:39px;height:27px;padding-top:6px"><span>60,0</span></div>
<div class="c" style="left:839px;top:411.0px;width:36px;height:27px;padding-top:6px"><span>0,0</span></div>
<div class="c" style="left:877px;top:411.0px;width:41px;height:27px;padding-top:6px"><span>0,47</span></div>
<div class="c" style="left:920px;top:411.0px;width:39px;height:27px;padding-top:6px"><span>1,41</span></div>
<div class="c" style="left:961px;top:411.0px;width:33px;height:27px;padding-top:6px"><span>66,66</span></div>
<div class="c" style="left:996px;top:411.0px;width:45px;height:27px;padding-top:6px"><span>HB</span></div>
<div class="c" style="left:1043px;top:411.0px;width:68px;height:27px;padding-top:6px"><span>27/05/2023</span></div>
<div class="c" style="left:1113px;top:411.0px;width:73px;height:27px;padding-top:6px"><span>26/05/2023</span></div>
<div class="c" style="left:1188px;top:411.0px;width:86px;height:27px;padding-top:6px"><span>26/05/2023</span></div>
<div class="c" style="left:4.3px;top:440.0px;width:39.7px;height:27px;padding-top:7px"><span>18830</span></div>
<div class="c" style="left:45.55px;top:440.0px;width:29.450000000000003px;height:27px;padding-top:7px"><span>Cadran</span></div>
<div class="c" style="left:77px;top:440.0px;width:24px;height:27px;padding-top:7px"><span>0</span></div>
<div class="c" style="left:102.7px;top:440.0px;width:37.3px;height:27px;padding-top:7px"><span>01BR</span></div>
<div class="c" style="left:142px;top:440.0px;width:33px;height:27px;padding-top:7px"><span>0107</span></div>
<div class="c" style="left:177.3px;top:440.0px;width:77.69999999999999px;height:27px;padding-top:7px"><span>BRIVE</span></div>
<div class="c" style="left:257px;top:440.0px;width:156px;height:27px;padding-top:7px"><span>THOMAS VALERIE</span></div>
<div class="c" style="left:415px;top:440.0px;width:148px;height:27px;padding-top:7px"><span>Alstroemère Dancing Queen</span></div>
<div class="c" style="left:565px;top:440.0px;width:41px;height:27px;padding-top:7px"><span>Orange</span></div>
<div class="c" style="left:608px;top:440.0px;width:31px;height:27px;padding-top:7px"><span>060</span></div>
<div class="c" style="left:688px;top:440.0px;width:32px;height:27px;padding-top:7px"><span>Q1</span></div>
<div class="c" style="left:722px;top:440.0px;width:31px;height:27px;padding-top:7px"><span>NL</span></div>
<div class="c" style="left:755px;top:440.0px;width:41px;height:27px;padding-top:7px"><span>10,0</span></div>
<div class="c" style="left:798px;top:440.0px;width:39px;height:27px;padding-top:7px"><span>10,0</span></div>
<div class="c" style="left:839px;top:440.0px;width:36px;height:27px;padding-top:7px"><span>0,0</span></div>
<div class="c" style="left:877px;top:440.0px;width:41px;height:27px;padding-top:7px"><span>0,35</span></div>
<div class="c" style="left:920px;top:440.0px;width:39px;height:27px;padding-top:7px"><span>1,07</span></div>
<div class="c" style="left:961px;top:440.0px;width:33px;height:27px;padding-top:7px"><span>67,28</span></div>
<div class="c" style="left:996px;top:440.0px;width:45px;height:27px;padding-top:7px"><span>HB</span></div>
<div class="c" style="left:1043px;top:440.0px;width:68px;height:27px;padding-top:7px"><span>27/05/2023</span></div>
<div class="c" style="left:1113px;top:440.0px;width:73px;height:27px;padding-top:7px"><span>26/05/2023</span></div>
<div class="c" style="left:1188px;top:440.0px;width:86px;height:27px;padding-top:7px"><span>24/05/2023</span></div>
</div>
</body></html>
